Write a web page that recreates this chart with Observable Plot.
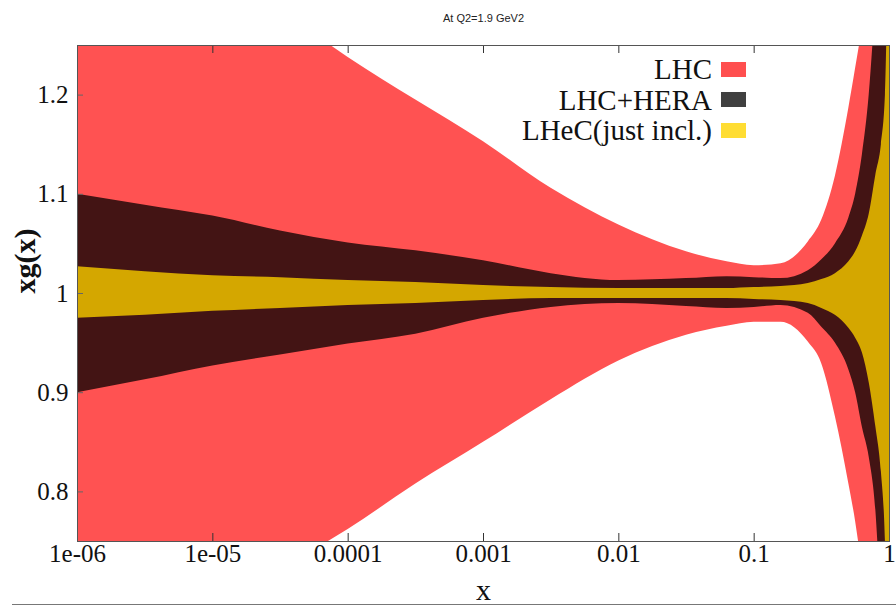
<!DOCTYPE html>
<html><head><meta charset="utf-8">
<script src="https://cdn.jsdelivr.net/npm/d3@7"></script>
<script src="https://cdn.jsdelivr.net/npm/@observablehq/plot@0.6"></script>
<style>
body{margin:0;background:#fff;}
#wrap{position:relative;width:896px;height:609px;overflow:hidden;}
#legend{position:absolute;right:150px;top:54px;font-family:"Liberation Serif",serif;font-size:29px;color:#111;}
.row{display:flex;justify-content:flex-end;align-items:center;height:30.5px;line-height:30.5px;white-space:nowrap;}
.sw{width:25px;height:15px;margin-left:9px;flex:none;}
#rule{position:absolute;left:12px;top:604px;width:884px;height:1px;background:#777;}
</style></head><body><div id="wrap"></div>
<script>
// x positions (log-spaced samples)
const xVals  = [1e-6, 3.16e-6, 1e-5, 3.16e-5, 1e-4, 3.16e-4, 1e-3, 3.16e-3, 0.01, 0.0316, 0.063, 0.1, 0.158, 0.251, 0.316, 0.398, 0.501, 0.562, 0.631, 0.708, 0.794, 0.871, 0.933, 1];
// LHC band
const lhcHi  = [1.41, 1.37, 1.325, 1.285, 1.238, 1.195, 1.153, 1.106, 1.069, 1.042, 1.032, 1.028, 1.030, 1.052, 1.074, 1.118, 1.187, 1.227, 1.27, 1.33, 1.42, 1.5, 1.6, 1.7];
const lhcLo  = [0.59, 0.635, 0.68, 0.722, 0.762, 0.808, 0.850, 0.893, 0.932, 0.958, 0.967, 0.971, 0.971, 0.951, 0.929, 0.876, 0.808, 0.77, 0.72, 0.66, 0.58, 0.5, 0.45, 0.4];
// LHC+HERA band
const heraHi = [1.10, 1.089, 1.078, 1.063, 1.051, 1.043, 1.033, 1.020, 1.013, 1.015, 1.017, 1.016, 1.015, 1.023, 1.034, 1.05, 1.076, 1.10, 1.14, 1.20, 1.30, 1.4, 1.5, 1.6];
const heraLo = [0.90, 0.913, 0.927, 0.938, 0.949, 0.959, 0.975, 0.986, 0.990, 0.987, 0.985, 0.986, 0.988, 0.980, 0.966, 0.950, 0.923, 0.90, 0.865, 0.835, 0.78, 0.68, 0.6, 0.5];
// LHeC (just incl.) band
const lhecHi = [1.027, 1.022, 1.018, 1.016, 1.013, 1.011, 1.008, 1.006, 1.005, 1.005, 1.005, 1.006, 1.007, 1.010, 1.014, 1.020, 1.032, 1.042, 1.058, 1.08, 1.12, 1.15, 1.2, 1.45];
const lhecLo = [0.975, 0.978, 0.982, 0.985, 0.988, 0.990, 0.993, 0.995, 0.995, 0.995, 0.995, 0.994, 0.993, 0.990, 0.985, 0.978, 0.965, 0.955, 0.94, 0.91, 0.865, 0.82, 0.75, 0.55];

const xTicks = [1e-6, 1e-5, 1e-4, 1e-3, 1e-2, 1e-1, 1];
const xTickLabels = ["1e-06", "1e-05", "0.0001", "0.001", "0.01", "0.1", "1"];
const yTicks = [0.8, 0.9, 1.0, 1.1, 1.2];
const yTickLabels = ["0.8", "0.9", "1", "1.1", "1.2"];

const legendLabels = ["LHC", "LHC+HERA", "LHeC(just incl.)"];
const legendColors = ["#ff4f4f", "#404040", "#ffdd33"];
const bandColors = ["#ff5252", "#431414", "#d4a700"];
const title = "At Q2=1.9 GeV2";
const xLabel = "x";
const yLabel = "xg(x)";

const rows = xVals.map((x, i) => ({x, lhcHi: lhcHi[i], lhcLo: lhcLo[i], heraHi: heraHi[i], heraLo: heraLo[i], lhecHi: lhecHi[i], lhecLo: lhecLo[i]}));

const serif = "Liberation Serif, Times New Roman, serif";
const chart = Plot.plot({
  width: 896, height: 609,
  marginLeft: 77, marginRight: 7, marginTop: 45, marginBottom: 68,
  style: {fontFamily: serif, color: "#111", background: "white"},
  x: {type: "log", domain: [1e-6, 1]},
  y: {domain: [0.75, 1.25]},
  marks: [
    Plot.areaY(rows, {x: "x", y1: "lhcLo", y2: "lhcHi", fill: bandColors[0], curve: "monotone-x", clip: true}),
    Plot.areaY(rows, {x: "x", y1: "heraLo", y2: "heraHi", fill: bandColors[1], curve: "monotone-x", clip: true}),
    Plot.areaY(rows, {x: "x", y1: "lhecLo", y2: "lhecHi", fill: bandColors[2], curve: "monotone-x", clip: true}),
    Plot.tickX(xTicks, {x: d => d, insetTop: 488, stroke: "#333", strokeWidth: 1}),
    Plot.tickX(xTicks, {x: d => d, insetBottom: 488, stroke: "#333", strokeWidth: 1}),
    Plot.tickY(yTicks, {y: d => d, insetRight: 806, stroke: "#666", strokeWidth: 1}),
    Plot.axisX(xTicks, {tickSize: 0, tickPadding: 3, fontSize: 25, fontFamily: serif, tickFormat: d => xTickLabels[xTicks.indexOf(d)], label: null}),
    Plot.axisY(yTicks, {tickSize: 0, tickPadding: 9, fontSize: 25, fontFamily: serif, tickFormat: d => yTickLabels[yTicks.indexOf(d)], label: null}),
    Plot.frame({stroke: "#555", strokeWidth: 1}),
    Plot.text([title], {frameAnchor: "top", dy: -31, fontSize: 11, fontFamily: "Liberation Sans, Arial, sans-serif", fill: "#222"}),
    Plot.text([xLabel], {frameAnchor: "bottom", dy: 58, fontSize: 30, fontFamily: serif, fill: "#111"}),
    Plot.text([yLabel], {frameAnchor: "left", dx: -52, rotate: -90, fontSize: 30, fontWeight: "bold", fontFamily: serif, fill: "#111"})
  ]
});

const wrap = document.getElementById("wrap");
wrap.appendChild(chart);
const legend = document.createElement("div");
legend.id = "legend";
legendLabels.forEach((lab, i) => {
  const r = document.createElement("div");
  r.className = "row";
  const t = document.createElement("span");
  t.textContent = lab;
  const s = document.createElement("span");
  s.className = "sw";
  s.style.background = legendColors[i];
  r.appendChild(t); r.appendChild(s);
  legend.appendChild(r);
});
wrap.appendChild(legend);
const rule = document.createElement("div");
rule.id = "rule";
wrap.appendChild(rule);
</script>
</body></html>
